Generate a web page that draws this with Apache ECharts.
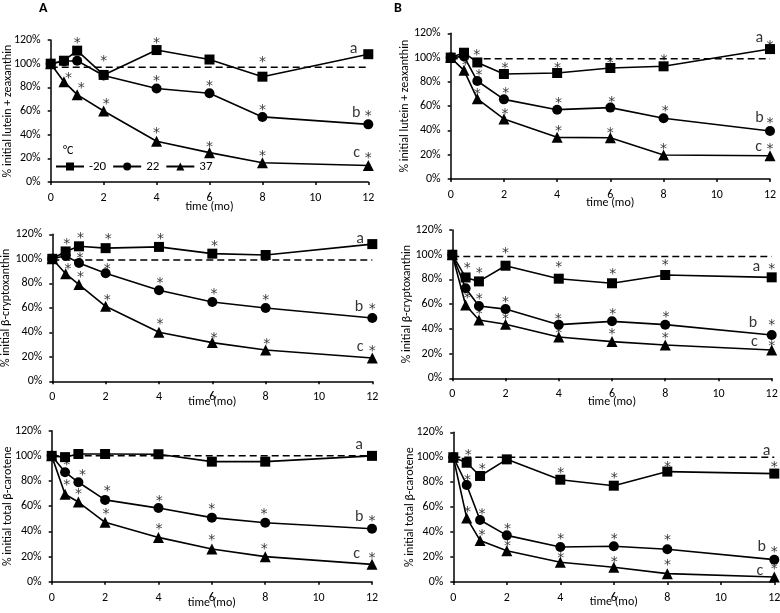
<!DOCTYPE html>
<html><head><meta charset="utf-8">
<script src="https://cdn.jsdelivr.net/npm/echarts@6/dist/echarts.min.js"></script>
<style>html,body{margin:0;padding:0;background:#fff}#c{width:780px;height:613px}</style>
</head><body><div id="c"></div>
<script>
// ---- data ----
const months = [0, 0.5, 1, 2, 4, 6, 8, 12];
const xTicks = [0, 2, 4, 6, 8, 10, 12];
const yTicks = [0, 20, 40, 60, 80, 100, 120];
const seriesNames = ['-20', '22', '37'];
const panelLabels = ['A', 'B'];
const yTitles = ['% initial lutein + zeaxanthin', '% initial lutein + zeaxanthin',
  '% initial β-cryptoxanthin', '% initial β-cryptoxanthin',
  '% initial total β-carotene', '% initial total β-carotene'];
const xTitle = 'time (mo)';

// Panel A1: lutein + zeaxanthin (A)
const A1_m20 = [100, 102.5, 111, 90.5, 111.5, 103.5, 89, 108];
const A1_22 = [100, 102, 102.5, 90, 79, 75, 55, 48.7];
const A1_37 = [100, 84.8, 73.8, 60, 34.4, 24.8, 16.3, 14];
const A1_ref = 97;
const A1_stars = [[1,119.4],[2,104.5],[4,120],[8,103.7],[4,87.6],[6,83.4],[8,63.1],[12,58],[0.67,90.4],[1.15,81.7],[2.1,68.5],[4,44],[6,32],[8,24.2],[12,22.5]];
const A1_letters = [[11.44,112.7,'a'],[11.54,58.6,'b'],[11.56,24.2,'c']];

// Panel B1: lutein + zeaxanthin (B)
const B1_m20 = [100, 104, 96, 86.5, 87.3, 91.4, 92.8, 107];
const B1_22 = [100, 101, 80.7, 65.6, 57.1, 58.8, 50, 39.5];
const B1_37 = [100, 89.5, 66, 49.5, 34.3, 34, 19.8, 19.2];
const B1_ref = 99;
const B1_stars = [[0.98,104],[2.04,93.9],[4.01,93.9],[6,98],[8.02,100.2],[12,111.8],[1.06,87.6],[2.07,73.3],[4.05,65.1],[6.05,65.9],[8.06,57.9],[12,48],[1.0,72.5],[2.04,56],[4.05,41.7],[6,40.4],[8,26.6],[12,26.6],[0.55,96]];
const B1_letters = [[11.6,115.9,'a'],[11.6,50,'b'],[11.57,26.6,'c']];

// Panel A2: beta-cryptoxanthin (A)
const A2_m20 = [100, 106, 110.2, 108.7, 109.7, 104.2, 103.1, 112];
const A2_22 = [100, 102.5, 96.5, 88.2, 74.3, 64.8, 59.9, 51.7];
const A2_37 = [100, 87.8, 79, 61.2, 40, 31.6, 25.6, 19];
const A2_ref = 99;
const A2_stars = [[0.54,114],[1.06,119.5],[2.1,118.5],[4.06,118.6],[6.08,112.6],[12,121.4],[1.04,102.5],[2.06,93.6],[4.04,82.7],[6.06,73.2],[8,68.3],[12,61],[0.59,93.5],[1.06,87.3],[2.06,68.5],[4.04,48.7],[6.06,37.8],[8.04,32.4],[12,27]];
const A2_letters = [[11.54,116,'a'],[11.5,61,'b'],[11.54,28.3,'c']];

// Panel B2: beta-cryptoxanthin (B)
const B2_m20 = [100, 81.6, 78.4, 91.1, 80.6, 76.9, 83.6, 81.7];
const B2_22 = [100, 72.8, 58.5, 56, 43.4, 46.1, 43.4, 35];
const B2_37 = [100, 59.3, 47.2, 43.8, 33.4, 29.7, 27, 22.9];
const B2_ref = 98.5;
const B2_stars = [[0.56,91.7],[1.01,87],[2,103.8],[4,92.2],[6.03,86.8],[8,93.6],[12,90.9],[0.56,67.5],[1.01,66],[2,63.9],[3.98,50.4],[6.03,54.5],[8.03,51.5],[12,45],[1.01,53.9],[2,50.2],[4,39],[6,38.3],[8,35],[12,28.3]];
const B2_letters = [[11.42,90.3,'a'],[11.3,45,'b'],[11.35,29.7,'c']];

// Panel A3: total beta-carotene (A)
const A3_m20 = [100, 99, 101.5, 101.5, 101.3, 95.4, 95.4, 100];
const A3_22 = [100, 87, 79, 65, 58.5, 50.9, 46.9, 42.1];
const A3_37 = [100, 69.5, 63.3, 47.2, 35.2, 26, 19.9, 13.8];
const A3_ref = 100;
const A3_stars = [[0.56,94.6],[1.15,87],[2.08,74.5],[4.03,66.2],[6,60.1],[7.95,56.2],[12,50.3],[0.56,79],[1.0,72.1],[2.03,56.2],[4.02,44.2],[6,35],[7.96,27.8],[12,20.7]];
const A3_letters = [[11.52,109,'a'],[11.52,51.7,'b'],[11.42,22,'c']];

// Panel B3: total beta-carotene (B)
const B3_m20 = [100, 95.6, 85, 98.3, 82, 77.2, 88.5, 86.9];
const B3_22 = [100, 77.8, 49.7, 37.4, 28.1, 28.6, 26.2, 17.9];
const B3_37 = [100, 51.4, 33.3, 25.1, 15.8, 11.8, 6.7, 4];
const B3_ref = 100;
const B3_stars = [[0.56,104.3],[1.08,92.4],[4.02,89.8],[6.02,85.8],[8.01,94.3],[12,94.3],[0.53,83.5],[1.07,56.7],[2.03,44.6],[4.02,36.3],[6.02,36.9],[8.01,35.5],[12,26.2],[0.53,57.9],[1.07,39.6],[2.03,31],[4.02,21.6],[6.02,18.4],[8.01,15.8],[12,12.3]];
const B3_letters = [[11.71,105.3,'a'],[11.53,28.3,'b'],[11.46,8.8,'c']];

// ---- layout ----
const FONT = 'Carlito, Lato, sans-serif';
const STARFONT = '"DejaVu Sans", sans-serif';
const panels = [
  {d:[A1_m20,A1_22,A1_37], ref:A1_ref, stars:A1_stars, letters:A1_letters, g:{left:50.7, top:40, width:317.6, height:142}, yGap:37, xGap:19},
  {d:[B1_m20,B1_22,B1_37], ref:B1_ref, stars:B1_stars, letters:B1_letters, g:{left:450.7, top:33.3, width:319.3, height:145.7}, yGap:40, xGap:18},
  {d:[A2_m20,A2_22,A2_37], ref:A2_ref, stars:A2_stars, letters:A2_letters, g:{left:52.3, top:234.3, width:320, height:147}, yGap:40, xGap:14.5},
  {d:[B2_m20,B2_22,B2_37], ref:B2_ref, stars:B2_stars, letters:B2_letters, g:{left:452.3, top:230, width:319.4, height:148.3}, yGap:39, xGap:17.5},
  {d:[A3_m20,A3_22,A3_37], ref:A3_ref, stars:A3_stars, letters:A3_letters, g:{left:51.7, top:430.7, width:320.3, height:151}, yGap:38, xGap:15.5},
  {d:[B3_m20,B3_22,B3_37], ref:B3_ref, stars:B3_stars, letters:B3_letters, g:{left:453.3, top:432.3, width:321, height:149.7}, yGap:37, xGap:13.5}
];
const symbols = ['rect', 'circle', 'triangle'];
const symSizes = [10, 10, 11];

const grid = [], xAxis = [], yAxis = [], series = [];
panels.forEach((p, i) => {
  grid.push(Object.assign({outerBoundsMode: 'none', containLabel: false}, p.g));
  xAxis.push({
    type: 'value', gridIndex: i, min: xTicks[0], max: xTicks[xTicks.length-1], interval: 2,
    name: xTitle, nameLocation: 'middle', nameGap: p.xGap, nameMoveOverlap: false,
    nameTextStyle: {fontFamily: FONT, fontSize: 12, color: '#000'},
    axisLine: {show: true, lineStyle: {color: '#000', width: 1.5}},
    axisTick: {show: true, inside: false, length: 3, lineStyle: {color: '#000', width: 1.5}},
    axisLabel: {margin: 10, fontFamily: FONT, fontSize: 12, color: '#000'},
    splitLine: {show: false}
  });
  yAxis.push({
    type: 'value', gridIndex: i, min: yTicks[0], max: yTicks[yTicks.length-1], interval: 20,
    name: yTitles[i], nameLocation: 'middle', nameGap: p.yGap, nameMoveOverlap: false,
    nameTextStyle: {fontFamily: FONT, fontSize: 12, color: '#000'},
    axisLine: {show: true, lineStyle: {color: '#000', width: 1.5}},
    axisTick: {show: true, inside: false, length: 3, lineStyle: {color: '#000', width: 1.5}},
    axisLabel: {margin: 10, fontFamily: FONT, fontSize: 12, color: '#000', formatter: '{value}%'},
    splitLine: {show: false}
  });
  series.push({
    type: 'line', xAxisIndex: i, yAxisIndex: i, silent: true, symbol: 'none',
    data: [[xTicks[0], p.ref], [xTicks[xTicks.length-1], p.ref]],
    lineStyle: {color: '#000', width: 1.5, type: [7, 4]}, z: 1
  });
  p.d.forEach((vals, k) => {
    series.push({
      type: 'line', name: seriesNames[k], xAxisIndex: i, yAxisIndex: i,
      data: months.map((m, j) => [m, vals[j]]),
      symbol: symbols[k], symbolSize: symSizes[k], showAllSymbol: true,
      itemStyle: {color: '#000'}, lineStyle: {color: '#000', width: 1.6}, z: 3
    });
  });
  series.push({
    type: 'scatter', xAxisIndex: i, yAxisIndex: i, silent: true,
    data: p.stars, symbol: 'circle', symbolSize: 1, itemStyle: {color: 'transparent'},
    label: {show: true, position: 'inside', formatter: '*', fontFamily: STARFONT, fontSize: 14, color: '#000', offset: [0, 3]}, z: 4
  });
  series.push({
    type: 'scatter', xAxisIndex: i, yAxisIndex: i, silent: true,
    data: p.letters, symbol: 'circle', symbolSize: 1, itemStyle: {color: 'transparent'},
    label: {show: true, position: 'inside', formatter: (q) => q.value[2], fontFamily: FONT, fontSize: 16, color: '#000'}, z: 4
  });
});

const chart = echarts.init(document.getElementById('c'), null, {renderer: 'canvas'});
chart.setOption({
  animation: false,
  backgroundColor: '#fff',
  grid, xAxis, yAxis, series,
  legend: {
    data: seriesNames, left: 55, top: 160, padding: 0, itemGap: 6, itemWidth: 28, itemHeight: 10,
    textStyle: {fontFamily: FONT, fontSize: 13, color: '#000'}, selectedMode: false
  },
  graphic: [
    {type: 'text', left: 39, top: 1, style: {text: panelLabels[0], font: 'bold 14px ' + FONT, fill: '#000'}},
    {type: 'text', left: 394, top: 1, style: {text: panelLabels[1], font: 'bold 14px ' + FONT, fill: '#000'}},
    {type: 'text', left: 63, top: 145, style: {text: '°C', font: '12px ' + FONT, fill: '#000'}}
  ]
});
</script></body></html>
